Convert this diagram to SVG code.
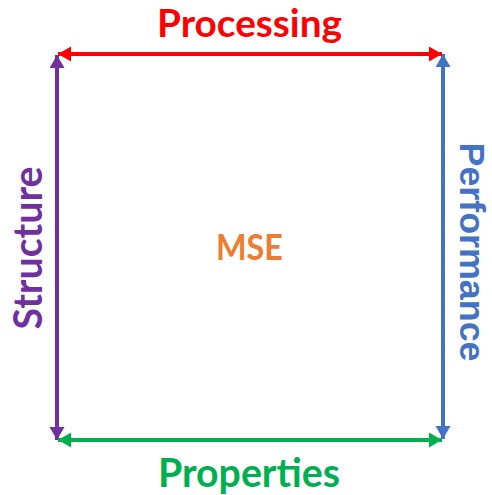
<svg xmlns="http://www.w3.org/2000/svg" width="492" height="495" viewBox="0 0 492 495">
<style>
.lbl{font-family:Lato,"Open Sans","Liberation Sans",sans-serif;font-weight:bold;text-anchor:middle}
.ln{stroke-width:4;fill:none}
</style>
<defs>
<marker id="aR" markerUnits="userSpaceOnUse" markerWidth="16" markerHeight="16" refX="13" refY="7.5" orient="auto-start-reverse"><path d="M0,0 L13,7.5 L0,15 Z" fill="#FF0000"/></marker>
<marker id="aG" markerUnits="userSpaceOnUse" markerWidth="16" markerHeight="16" refX="13" refY="7.5" orient="auto-start-reverse"><path d="M0,0 L13,7.5 L0,15 Z" fill="#00B050"/></marker>
<marker id="aP" markerUnits="userSpaceOnUse" markerWidth="16" markerHeight="16" refX="13" refY="7.5" orient="auto-start-reverse"><path d="M0,0 L13,7.5 L0,15 Z" fill="#7030A0"/></marker>
<marker id="aB" markerUnits="userSpaceOnUse" markerWidth="16" markerHeight="16" refX="13" refY="7.5" orient="auto-start-reverse"><path d="M0,0 L13,7.5 L0,15 Z" fill="#4472C4"/></marker>
</defs>
<g id="connectors">
<line class="ln" x1="57" y1="55" x2="57" y2="440" stroke="#7030A0" marker-start="url(#aP)" marker-end="url(#aP)"/>
<line class="ln" x1="443" y1="54" x2="443" y2="439" stroke="#4472C4" marker-start="url(#aB)" marker-end="url(#aB)"/>
<line class="ln" x1="58" y1="54" x2="442" y2="54" stroke="#FF0000" marker-start="url(#aR)" marker-end="url(#aR)"/>
<line class="ln" x1="58" y1="440" x2="442" y2="440" stroke="#00B050" marker-start="url(#aG)" marker-end="url(#aG)"/>
</g>
<g id="processing"><text class="lbl" x="249.5" y="37" font-size="39" fill="#FF0000" textLength="185" lengthAdjust="spacingAndGlyphs">Processing</text></g>
<g id="properties"><text class="lbl" x="249" y="487" font-size="40" fill="#00B050" textLength="182" lengthAdjust="spacingAndGlyphs">Properties</text></g>
<g id="structure"><text class="lbl" transform="translate(42,248) rotate(-90)" font-size="40" fill="#7030A0" textLength="163" lengthAdjust="spacingAndGlyphs">Structure</text></g>
<g id="performance"><text transform="translate(460,252) rotate(90)" font-family="'Liberation Sans',Arial,sans-serif" font-weight="bold" text-anchor="middle" font-size="35" fill="#4472C4" textLength="219" lengthAdjust="spacingAndGlyphs">Performance</text></g>
<g id="mse"><text class="lbl" x="249.5" y="260" font-size="36" fill="#ED7D31" textLength="67" lengthAdjust="spacingAndGlyphs">MSE</text></g>
</svg>
